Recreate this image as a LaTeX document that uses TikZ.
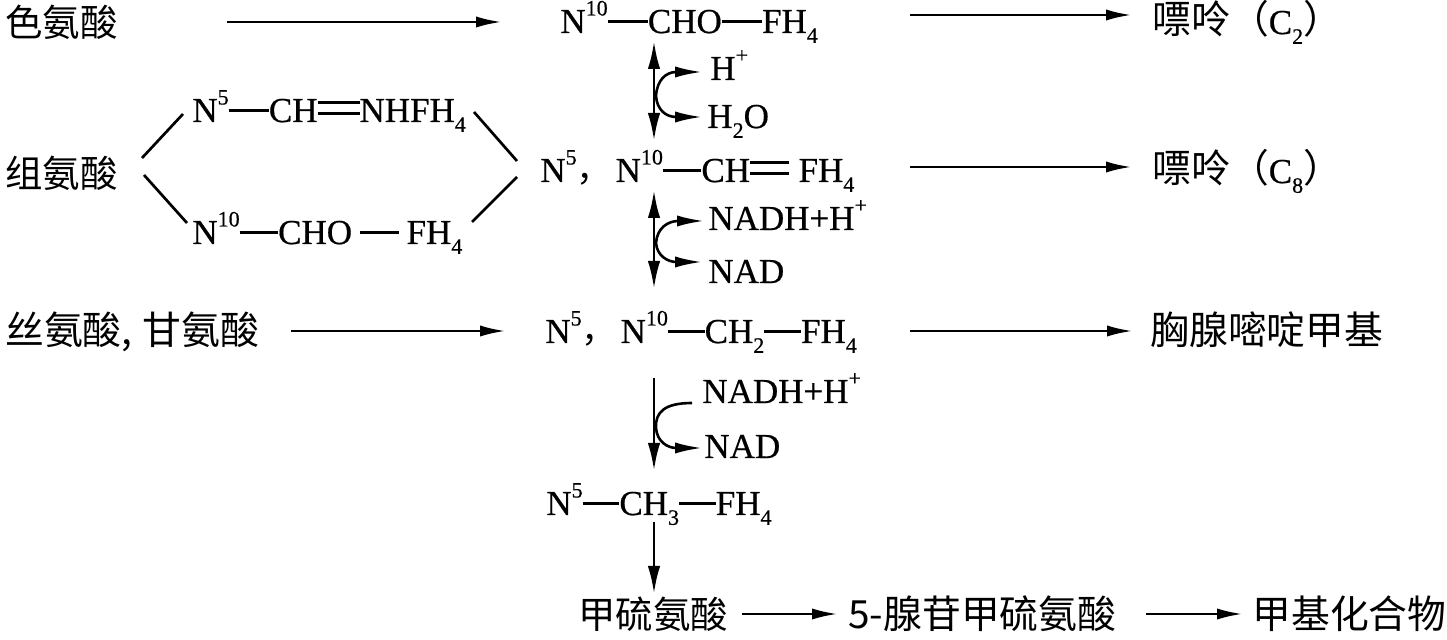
\documentclass[tikz,border=0pt]{standalone}
\usepackage{fontspec}
\setmainfont{Liberation Serif}[FakeBold=0.5]
\newfontfamily\cjk{Noto Sans CJK SC}
\usetikzlibrary{arrows.meta}
\newcommand{\sbd}[1][1.05em]{\rule[0.29em]{#1}{0.085em}}
\newcommand{\dbd}[1][1.05em]{\rlap{\rule[0.19em]{#1}{0.085em}}\rule[0.52em]{#1}{0.085em}}
\newcommand{\sps}[1]{\raisebox{0.5em}{\fontsize{11}{11}\selectfont #1}}
\newcommand{\sbs}[1]{\raisebox{-0.28em}{\fontsize{11}{11}\selectfont #1}}
\newcommand{\zhc}{{\cjk ，}}
\newcommand{\latf}{\rmfamily\fontsize{17.5}{20}\selectfont}
\begin{document}
\begin{tikzpicture}[x=0.5pt,y=-0.5pt,
  lat/.style={inner sep=0pt, anchor=base west, font=\latf},
  zh/.style={inner sep=0pt, anchor=base west, font=\cjk\fontsize{19.4}{20}\selectfont},
  zhs/.style={zh, font=\cjk\fontsize{18.7}{20}\selectfont},
  arr/.style={line width=1.45pt, -{Latex[length=13pt,width=5.6pt]}},
  varr/.style={line width=1.45pt, -{Latex[length=14pt,width=6.2pt]}},
  darr/.style={line width=1.45pt, {Latex[length=14pt,width=6.2pt]}-{Latex[length=14pt,width=6.2pt]}},
  carr/.style={line width=1.3pt, -{Latex[length=13.5pt,width=5.6pt]}},
  bond/.style={line width=1.35pt}]
\fill[white] (0,0) rectangle (1447,640);
\useasboundingbox (0,0) rectangle (1447,640);

% ---- row 1
\node[zhs] (trp) at (5,37) {色氨酸};
\node[lat] (f1) at (560,33) {N\sps{10}\sbd[1.15em]CHO\sbd[1.15em]FH\sbs{4}};
\node[zh] (p1) at (1152,34) {嘌呤（{\latf C\sbs{2}}）};
\coordinate (a1s) at (227,22); \coordinate (a1e) at (502,22);
\coordinate (a2s) at (910,15); \coordinate (a2e) at (1132,15);
\draw[arr] (a1s) -- (a1e);
\draw[arr] (a2s) -- (a2e);

% ---- equilibrium 1
\coordinate (d1t) at (654,41); \coordinate (d1b) at (654,141);
\draw[darr] (d1t) -- (d1b);
\node[lat] (hp) at (710,80) {H\sps{+}};
\node[lat] (h2o) at (707,128) {H\sbs{2}O};
\coordinate (c1) at (656,96);
\draw[carr] (c1) .. controls (657,80) and (666,72) .. (702,72);
\draw[carr] (c1) .. controls (657,110) and (666,117) .. (702,117);

% ---- row 2
\node[zhs] (his) at (5,188) {组氨酸};
\node[lat] (hu) at (192,122) {N\sps{5}\sbd[1.15em]CH\dbd[1.2em]NHFH\sbs{4}};
\node[lat] (hd) at (192,244) {N\sps{10}\sbd[1.1em]CHO\hspace{4pt}\sbd[1.1em]\hspace{4pt}FH\sbs{4}};
\node[lat] (f2) at (540,182) {N\sps{5}\zhc\hspace{2pt}N\sps{10}\sbd[1.1em]CH\dbd[1.1em]\hspace{5pt}FH\sbs{4}};
\node[zh] (p2) at (1152,183) {嘌呤（{\latf C\sbs{8}}）};
\draw[bond] (142,158) -- (183,114);
\draw[bond] (144,175) -- (187,223);
\draw[bond] (474,112) -- (517,161);
\draw[bond] (517,177) -- (472,222);
\coordinate (a3s) at (910,167); \coordinate (a3e) at (1132,167);
\draw[arr] (a3s) -- (a3e);

% ---- equilibrium 2
\coordinate (d2t) at (654,190); \coordinate (d2b) at (654,289);
\draw[darr] (d2t) -- (d2b);
\node[lat] (nadh1) at (708,230) {NADH+H\sps{+}};
\node[lat] (nad1) at (708,283) {NAD};
\coordinate (c2) at (656,243);
\draw[carr] (c2) .. controls (657,228) and (668,221) .. (704,221);
\draw[carr] (c2) .. controls (657,256) and (668,262) .. (702,262);

% ---- row 3
\node[zh] (ser) at (5,345) {丝氨酸,\hspace{5pt}甘氨酸};
\node[lat] (f3) at (545,343) {N\sps{5}\zhc\hspace{2pt}N\sps{10}\sbd CH\sbs{2}\sbd FH\sbs{4}};
\node[zh] (thy) at (1150,345) {胸腺嘧啶甲基};
\coordinate (a4s) at (291,331); \coordinate (a4e) at (506,331);
\coordinate (a5s) at (910,331); \coordinate (a5e) at (1133,331);
\draw[arr] (a4s) -- (a4e);
\draw[arr] (a5s) -- (a5e);

% ---- reduction
\coordinate (d3t) at (654,378); \coordinate (d3b) at (654,471);
\draw[varr] (d3t) -- (d3b);
\node[lat] (nadh2) at (702,403) {NADH+H\sps{+}};
\node[lat] (nad2) at (704,458) {NAD};
\coordinate (c3) at (692,403);
\draw[carr] (c3) .. controls (665,403) and (655,412) .. (656,428) .. controls (657,442) and (668,448) .. (702,448);

% ---- row 4
\node[lat] (f4) at (546,515) {N\sps{5}\sbd CH\sbs{3}\sbd FH\sbs{4}};
\coordinate (d4t) at (654,522); \coordinate (d4b) at (654,594);
\draw[varr] (d4t) -- (d4b);

% ---- row 5
\node[zhs] (met) at (578,629) {甲硫氨酸};
\node[zh] (sam) at (848,629) {5-腺苷甲硫氨酸};
\node[zh] (mc) at (1252,629) {甲基化合物};
\coordinate (a6s) at (742,614); \coordinate (a6e) at (838,614);
\coordinate (a7s) at (1146,614); \coordinate (a7e) at (1243,614);
\draw[arr] (a6s) -- (a6e);
\draw[arr] (a7s) -- (a7e);
\end{tikzpicture}
\end{document}
